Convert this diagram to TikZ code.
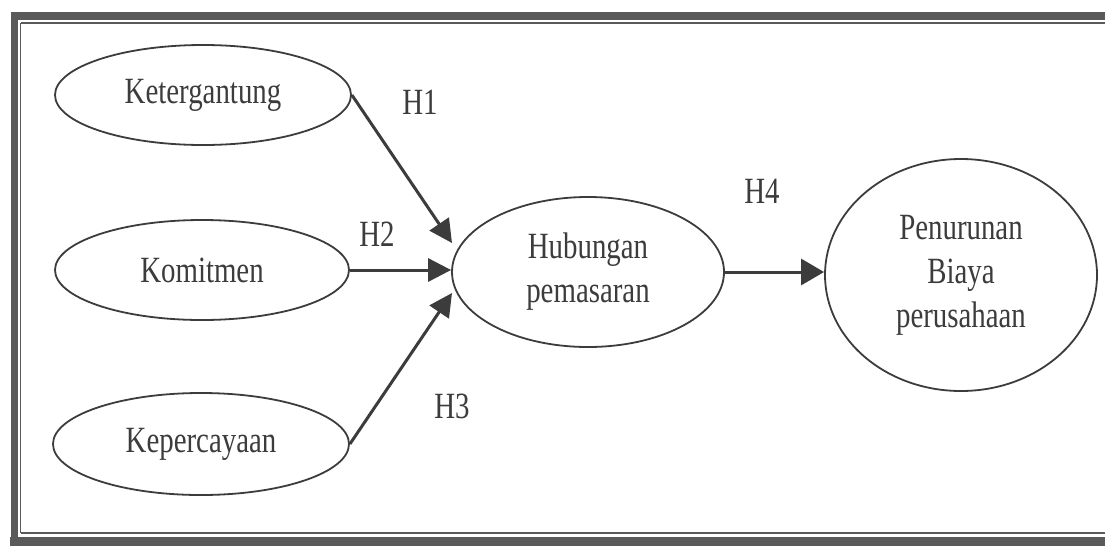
\documentclass[tikz,border=0pt]{standalone}
\usepackage{fontspec}
\newfontfamily\figfont{Liberation Serif}[FakeStretch=0.78]
\usetikzlibrary{shapes.geometric,arrows.meta}
\definecolor{ink}{HTML}{3C3C3C}
\definecolor{framegray}{HTML}{5A5A5A}
\tikzset{
  oval/.style={ellipse, draw=ink, line width=1.8pt, inner sep=0pt, text=ink,
    font=\figfont\fontsize{37}{44}\selectfont, align=center},
  hyp/.style={text=ink, font=\figfont\fontsize{37}{44}\selectfont, inner sep=0pt},
  link/.style={draw=ink, line width=3pt, -{Triangle[length=23pt,width=23pt]}},
}
\begin{document}
\begin{tikzpicture}[x=1pt,y=-1pt]
\useasboundingbox (0,0) rectangle (1105,547);
\begin{scope}
\clip (0,0) rectangle (1105,547);
\fill[white] (0,0) rectangle (1105,547);
% frame
\draw[framegray, line width=8pt] (14.5,15.5) -- (1120,15.5);
\draw[framegray, line width=7pt] (14.5,12) -- (14.5,545);
\draw[framegray, line width=9pt] (10,541) -- (1120,541);
\draw[framegray, line width=1.6pt] (20.5,23) -- (1120,23);
\draw[framegray, line width=1.6pt] (20.5,23) -- (20.5,533);
\draw[framegray, line width=1.6pt] (20.5,533) -- (1120,533);
\end{scope}
% nodes
\node[oval, minimum width=296pt, minimum height=100pt] (k) at (203,95) {Ketergantung};
\node[oval, minimum width=294pt, minimum height=100pt] (m) at (202,270) {Komitmen};
\node[oval, minimum width=296pt, minimum height=102pt] (p) at (201,444) {Kepercayaan};
\node[oval, minimum width=272pt, minimum height=150pt] (h) at (588,272) {Hubungan\\pemasaran};
\node[oval, minimum width=272pt, minimum height=232pt] (b) at (961,275) {Penurunan\\Biaya\\perusahaan};
% arrow targets
\coordinate (t1) at (452,243);
\coordinate (t3) at (452,293);
% connectors
\draw[link] (k.east) -- (t1);
\draw[link] (m.east) -- (m.east -| h.west);
\draw[link] (p.east) -- (t3);
\draw[link, -{Triangle[length=23pt,width=26pt]}] (h.east) -- (h.east -| b.west);
% labels
\node[hyp] (l1) at (420,102) {H1};
\node[hyp] (l2) at (377,234) {H2};
\node[hyp] (l3) at (452,406) {H3};
\node[hyp] (l4) at (762,191) {H4};
\end{tikzpicture}
\end{document}
